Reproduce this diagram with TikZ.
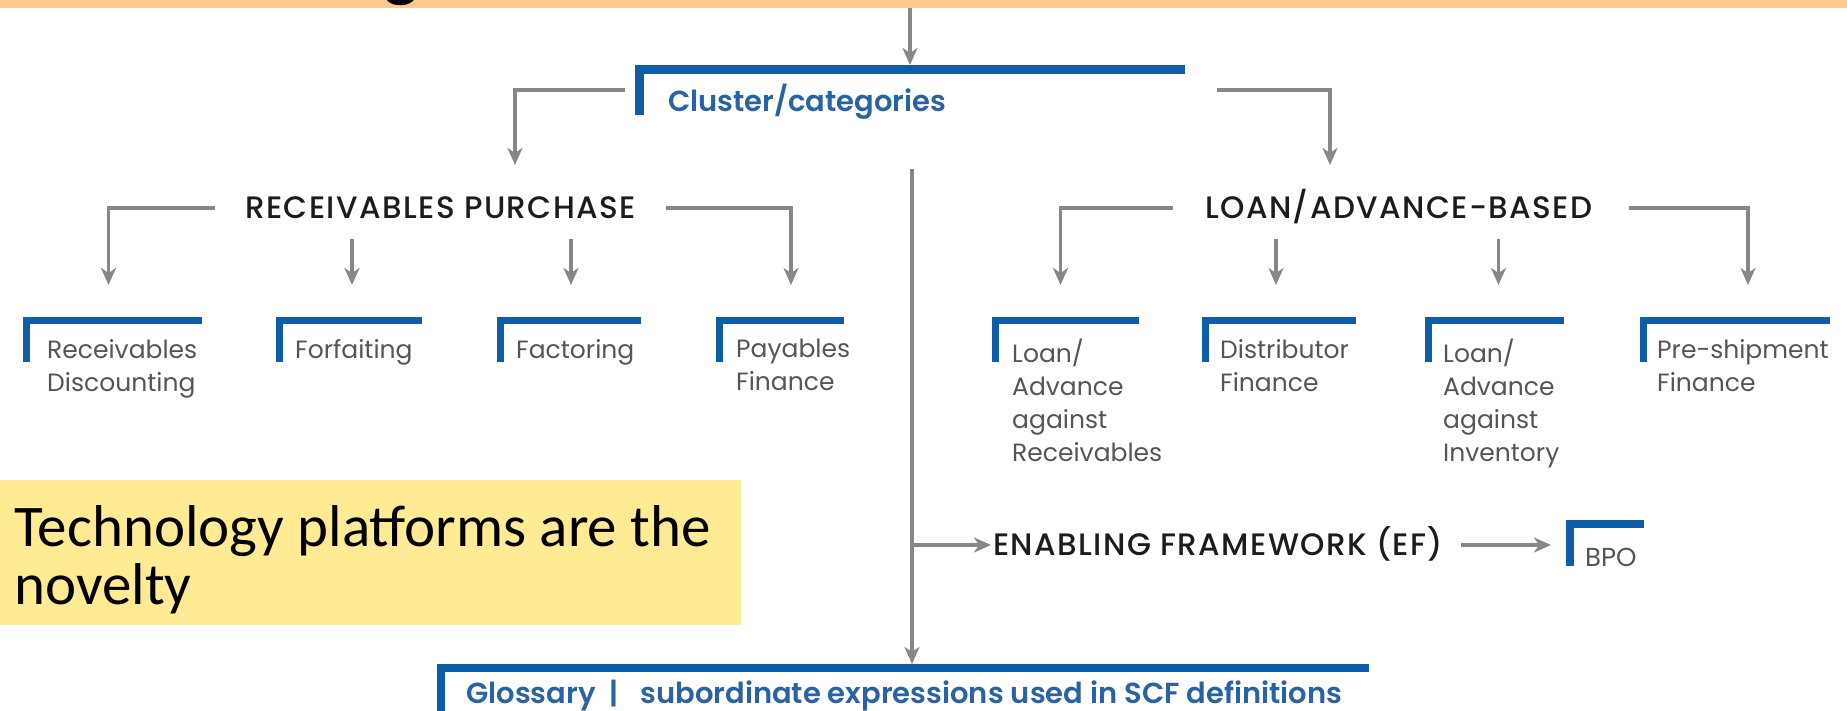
\documentclass[tikz,border=0pt]{standalone}
\usepackage{fontspec}
\usetikzlibrary{arrows.meta,calc}
\newfontfamily\popreg{Poppins}
\IfFontExistsTF{Poppins Medium}{\newfontfamily\popmed{Poppins Medium}[LetterSpace=4.5]}{\newfontfamily\popmed{Poppins}[FakeBold=1.2,LetterSpace=4.5]}
\IfFontExistsTF{Poppins SemiBold}{\newfontfamily\popsemi{Poppins SemiBold}}{\newfontfamily\popsemi{Poppins}[FakeBold=2]}
\newfontfamily\calib{Carlito}
\definecolor{bandorange}{HTML}{FFC88C}
\definecolor{notebg}{HTML}{FFEB94}
\definecolor{barblue}{HTML}{0F5CA8}
\definecolor{txtblue}{HTML}{2A63A2}
\definecolor{arrgray}{HTML}{878787}
\definecolor{bodygray}{HTML}{555555}
\definecolor{headblack}{HTML}{1C1C1C}
\begin{document}
\begin{tikzpicture}[x={(1pt,0pt)}, y={(0pt,-1pt)},
  conn/.style={draw=arrgray, line width=3.2pt, -{Stealth[length=17pt,width=15pt,inset=5pt]}},
  corner/.style n args={3}{anchor=north west, inner sep=0pt, outer sep=0pt,
    minimum width=#1, minimum height=#2,
    path picture={
      \fill[barblue] (path picture bounding box.north west) rectangle ([yshift=-#3]path picture bounding box.north east);
      \fill[barblue] (path picture bounding box.north west) rectangle ([xshift=#3]path picture bounding box.south west);}},
  headlbl/.style={inner sep=0pt, anchor=west, text=headblack, font=\popmed\fontsize{31}{36}\selectfont, text height=21.5pt, text depth=0pt},
  bodylbl/.style={inner sep=0pt, anchor=north west, align=left, text=bodygray, font=\popreg\fontsize{25}{33}\selectfont},
  bluelbl/.style={inner sep=0pt, anchor=base west, text=txtblue, font=\popsemi\fontsize{29}{32}\selectfont},
  fillbox/.style={inner sep=0pt, anchor=north west}
]
\useasboundingbox (0,0) rectangle (1847,711);
% top band and clipped title letter
\node[fillbox, fill=bandorange, minimum width=1847pt, minimum height=8pt] (band) at (0,0) {};
\node[inner sep=0pt, anchor=base west, font=\calib\bfseries\fontsize{72}{72}\selectfont] (titleg) at (384,-6) {g};

% note box
\node[fillbox, fill=notebg, minimum width=741pt, minimum height=145pt] (note) at (0,480) {};
\node[inner sep=0pt, anchor=north west, align=left, font=\calib\fontsize{59}{58}\selectfont] (notetxt) at (14,505) {Technology platforms are the\\novelty};

% cluster
\node[corner={550pt}{50pt}{9pt}] (cluster) at (635,65) {};
\node[bluelbl] (clustertxt) at (668,112) {Cluster/categories};
\draw[conn] (band.south -| cluster.north) -- (cluster.north);

% headings
\node[headlbl] (rp) at (245,208) {RECEIVABLES PURCHASE};
\node[headlbl] (loan) at (1205,208) {LOAN/ADVANCE-BASED};
\coordinate (rpin) at (515,165);
\coordinate (loanin) at (1330,165);
\draw[conn] ([xshift=-10pt]cluster.west) -| (rpin);
\draw[conn] ([xshift=32pt]cluster.east) -| (loanin);

% row boxes
\node[corner={179pt}{45pt}{7pt}] (b1) at (23,317) {};
\node[corner={146pt}{45pt}{7pt}] (b2) at (276,317) {};
\node[corner={144pt}{45pt}{7pt}] (b3) at (497,317) {};
\node[corner={128pt}{45pt}{7pt}] (b4) at (716,317) {};
\node[corner={147pt}{45pt}{7pt}] (b5) at (992,317) {};
\node[corner={154pt}{45pt}{7pt}] (b6) at (1202,317) {};
\node[corner={139pt}{45pt}{7pt}] (b7) at (1425,317) {};
\node[corner={190pt}{45pt}{7pt}] (b8) at (1640,317) {};

\node[bodylbl] (t1) at (47,339) {Receivables\\Discounting};
\node[bodylbl] (t2) at (295,339) {Forfaiting};
\node[bodylbl] (t3) at (516,339) {Factoring};
\node[bodylbl] (t4) at (736,339) {Payables\\Finance};
\node[bodylbl] (t5) at (1012,339) {Loan/\\Advance\\against\\Receivables};
\node[bodylbl] (t6) at (1220,339) {Distributor\\Finance};
\node[bodylbl] (t7) at (1443,339) {Loan/\\Advance\\against\\Inventory};
\node[bodylbl] (t8) at (1657,339) {Pre-shipment\\Finance};

% receivables purchase connectors
\draw[conn] ([xshift=-30pt]rp.west) -| ($(b1.north)+(-4,-32)$);
\draw[conn] ([xshift=30pt]rp.east) -| ($(b4.north)+(11,-32)$);
\draw[conn] ($(b2.north |- rp.south)+(3,20)$) -- ($(b2.north)+(3,-32)$);
\draw[conn] ($(b3.north |- rp.south)+(2,20)$) -- ($(b3.north)+(2,-32)$);

% loan/advance connectors
\draw[conn] ([xshift=-32pt]loan.west) -| ($(b5.north)+(-5,-32)$);
\draw[conn] ([xshift=36pt]loan.east) -| ($(b8.north)+(13,-32)$);
\draw[conn] ($(b6.north |- loan.south)+(-3,20)$) -- ($(b6.north)+(-3,-32)$);
\draw[conn] ($(b7.north |- loan.south)+(4,20)$) -- ($(b7.north)+(4,-32)$);

% central spine and glossary
\coordinate (ctop) at (912,169);
\node[corner={932pt}{50pt}{8pt}] (gloss) at (437,664) {};
\node[bluelbl] (glosstxt) at (466,703) {Glossary\hspace{14pt}|\hspace{22pt}subordinate expressions used in SCF definitions};
\draw[conn] (ctop) -- (ctop |- gloss.north);

% enabling framework
\node[headlbl] (ef) at (993,545) {ENABLING FRAMEWORK (EF)};
\draw[conn] (ctop |- ef.west) -- ([xshift=-2pt]ef.west);
\node[corner={78pt}{46pt}{8pt}] (bpo) at (1566,520) {};
\node[inner sep=0pt, anchor=base west, text=bodygray, font=\popreg\fontsize{26}{28}\selectfont] (bpotxt) at (1585,566) {BPO};
\draw[conn] ([xshift=18pt]ef.east) -- ($(bpo.west |- ef.east)+(-15,0)$);
\end{tikzpicture}
\end{document}
